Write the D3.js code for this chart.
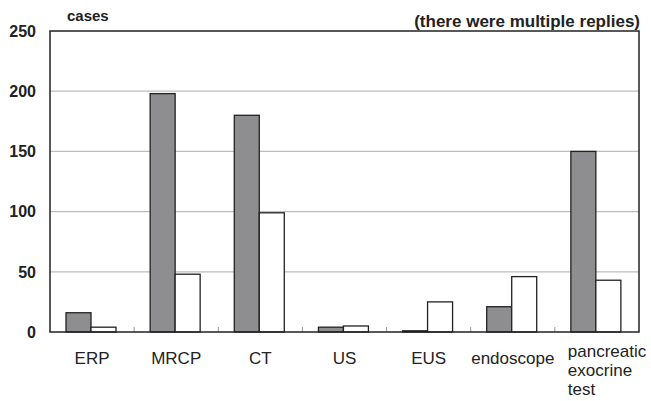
<!DOCTYPE html>
<html><head><meta charset="utf-8">
<script src="https://cdn.jsdelivr.net/npm/d3@7"></script>
<style>
body{margin:0;background:#fff;}
text{font-family:"Liberation Sans",Arial,sans-serif;fill:#222;}
</style></head>
<body>
<svg id="c" width="651" height="401"></svg>
<script>
const categories = ["ERP","MRCP","CT","US","EUS","endoscope","pancreatic exocrine test"];
const seriesA = [16, 198, 180, 4, 1, 21, 150];   // gray bars
const seriesB = [4, 48, 99, 5, 25, 46, 43];      // white bars
const yTicks = [0, 50, 100, 150, 200, 250];

const svg = d3.select("#c");
const L = 50, R = 639, T = 31, B = 332;

const x = d3.scaleBand().domain(categories).range([L, R]).padding(0);
const sub = d3.scaleBand().domain([0, 1]).range([16, 66]).padding(0);
const y = d3.scaleLinear().domain([0, 250]).range([B, T]);

// gridlines
svg.append("g").selectAll("line").data(yTicks.filter(d => d > 0 && d < 250)).join("line")
  .attr("x1", L).attr("x2", R).attr("y1", d => y(d)).attr("y2", d => y(d))
  .attr("stroke", "#bdbdbd").attr("stroke-width", 1.2);

// category boundary ticks
svg.append("g").selectAll("line").data(categories.slice(1)).join("line")
  .attr("x1", d => x(d)).attr("x2", d => x(d)).attr("y1", B).attr("y2", B - 5)
  .attr("stroke", "#999").attr("stroke-width", 1);

// bars
const g = svg.append("g");
categories.forEach((c, i) => {
  [[seriesA[i], "#8e8e90"], [seriesB[i], "#ffffff"]].forEach(([v, fill], k) => {
    g.append("rect")
      .attr("x", x(c) + sub(k)).attr("width", sub.bandwidth())
      .attr("y", y(v)).attr("height", y(0) - y(v))
      .attr("fill", fill).attr("stroke", "#222").attr("stroke-width", 1.3);
  });
});

// frame
svg.append("rect").attr("x", L).attr("y", T).attr("width", R - L).attr("height", B - T)
  .attr("fill", "none").attr("stroke", "#222").attr("stroke-width", 1.5);

// y tick labels
svg.append("g").selectAll("text").data(yTicks).join("text")
  .attr("x", 36).attr("y", d => y(d)).attr("dy", "0.36em")
  .attr("text-anchor", "end").attr("font-size", 16).attr("font-weight", "bold")
  .text(d => d);

// x labels
categories.forEach(c => {
  const multi = c === "pancreatic exocrine test";
  const lines = multi ? ["pancreatic","exocrine","test"] : [c];
  const t = svg.append("text").attr("font-size", 17)
    .attr("text-anchor", multi ? "start" : "middle");
  lines.forEach((ln, j) => {
    t.append("tspan")
      .attr("x", multi ? x(c) + 13 : x(c) + x.bandwidth() / 2)
      .attr("y", multi ? 357 + j * 19 : 364).text(ln);
  });
});

svg.append("text").attr("x", 67).attr("y", 21).attr("font-size", 15).attr("font-weight", "bold").text("cases");
svg.append("text").attr("x", 640).attr("y", 27).attr("text-anchor", "end").attr("font-size", 17)
  .attr("font-weight", "bold").text("(there were multiple replies)");
</script>
</body></html>
